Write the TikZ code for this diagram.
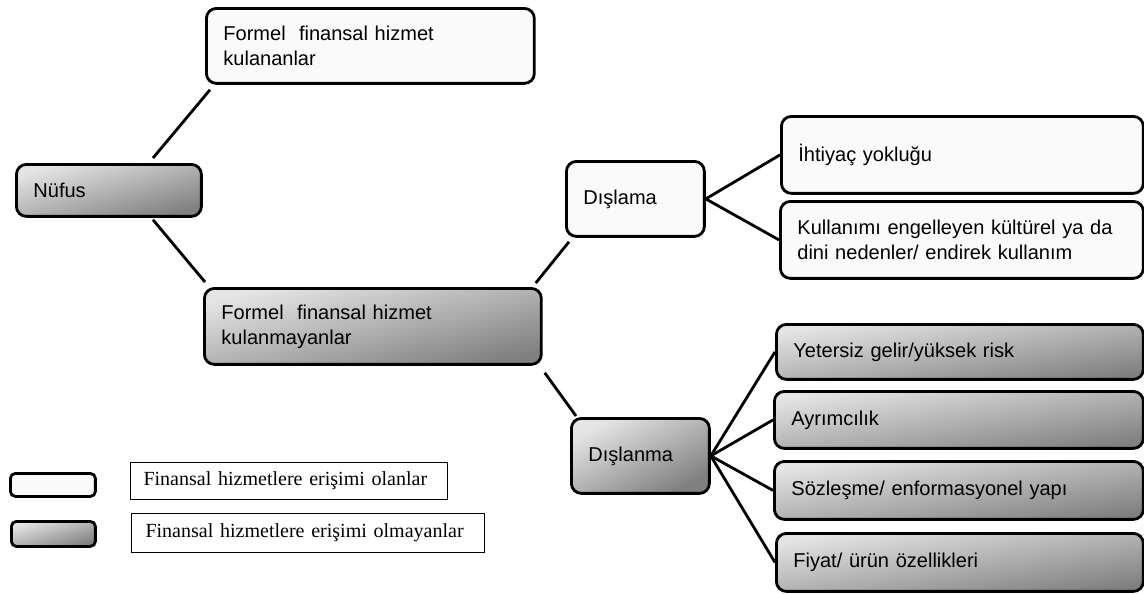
\documentclass[tikz,border=0pt]{standalone}
\usepackage{fontspec}
\setmainfont{Liberation Sans}
\newfontfamily\legendfont{Liberation Serif}

\begin{document}
\begin{tikzpicture}[x=0.02cm, y=-0.02cm, font=\fontsize{11.4}{14.2}\selectfont]
    \tikzstyle{kutu} = [draw, line width=1.6pt, rounded corners=0.2cm, anchor=north west, inner xsep=0.34cm, inner ysep=0pt, align=left]
    \tikzstyle{erisimli} = [kutu, fill=black!2]
    \tikzstyle{erisimsiz} = [kutu, top color=black!10, bottom color=black!50]
    \tikzstyle{ornek} = [kutu, rounded corners=0.1cm, inner sep=0pt]
    \tikzstyle{etiket} = [draw, line width=0.6pt, anchor=north west, inner ysep=0pt, align=left, font=\legendfont\fontsize{11.4}{14.2}\selectfont]
    \tikzstyle{link} = [line width=1.6pt]

    \useasboundingbox (0,0) rectangle (1144,593);

    % Population
    \node [erisimsiz, shading angle=16, minimum width=3.7cm, minimum height=1.04cm, text width=3.02cm] (nufus) at (15,163) {Nüfus};

    % Users / non-users
    \node [erisimli, minimum width=6.56cm, minimum height=1.5cm, text width=5.88cm] (kullanan) at (205,7) {Formel\ \ finansal hizmet\\kulananlar};
    \node [erisimsiz, shading angle=13, minimum width=6.74cm, minimum height=1.52cm, text width=6.06cm] (kullanmayan) at (203,287) {Formel\ \ finansal hizmet\\kulanmayanlar};

    % Exclusion types
    \node [erisimli, minimum width=2.76cm, minimum height=1.5cm, text width=2.08cm] (dislama) at (565,160) {Dışlama};
    \node [erisimsiz, shading angle=28, minimum width=2.76cm, minimum height=1.5cm, text width=2.08cm] (dislanma) at (570,417) {Dışlanma};

    % Reasons
    \node [erisimli, minimum width=7.24cm, minimum height=1.54cm, text width=6.56cm] (ihtiyac) at (780,115) {İhtiyaç yokluğu};
    \node [erisimli, minimum width=7.26cm, minimum height=1.54cm, text width=6.58cm] (kultur) at (779,200) {Kullanımı engelleyen kültürel ya da\\dini nedenler/ endirek kullanım};
    \node [erisimsiz, shading angle=9, minimum width=7.34cm, minimum height=1.1cm, text width=6.66cm] (gelir) at (775,323) {Yetersiz gelir/yüksek risk};
    \node [erisimsiz, shading angle=9, minimum width=7.38cm, minimum height=1.14cm, text width=6.7cm] (ayrim) at (773,390) {Ayrımcılık};
    \node [erisimsiz, shading angle=9, minimum width=7.38cm, minimum height=1.16cm, text width=6.7cm] (sozlesme) at (773,460) {Sözleşme/ enformasyonel yapı};
    \node [erisimsiz, shading angle=9, minimum width=7.34cm, minimum height=1.16cm, text width=6.66cm] (fiyat) at (775,532) {Fiyat/ ürün özellikleri};

    % Legend
    \node [ornek, fill=black!2, minimum width=1.7cm, minimum height=0.46cm] (ornekacik) at (9,472) {};
    \node [ornek, top color=black!10, bottom color=black!50, shading angle=17, minimum width=1.68cm, minimum height=0.5cm] (ornekkoyu) at (10,520) {};
    \node [etiket, inner xsep=0.26cm, minimum width=6.34cm, minimum height=0.74cm, text width=5.82cm] (etiketacik) at (130,462) {Finansal hizmetlere erişimi olanlar};
    \node [etiket, inner xsep=0.28cm, minimum width=7.06cm, minimum height=0.78cm, text width=6.5cm] (etiketkoyu) at (131,513) {Finansal hizmetlere erişimi olmayanlar};

    % Connections
    \draw [link] ([shift={(138,-5)}]nufus.north west) -- ([shift={(5,5)}]kullanan.south west);
    \draw [link] ([shift={(138,2)}]nufus.south west) -- ([shift={(2,-5)}]kullanmayan.north west);
    \draw [link] ([shift={(-7,-4)}]kullanmayan.north east) -- ([shift={(4,4)}]dislama.south west);
    \draw [link] ([shift={(2,7)}]kullanmayan.south east) -- ([shift={(6,-1)}]dislanma.north west);

    \draw [link] (dislama.east) -- (ihtiyac.west);
    \draw [link] (dislama.east) -- (kultur.west);

    \draw [link] (dislanma.east) -- (gelir.west);
    \draw [link] (dislanma.east) -- (ayrim.west);
    \draw [link] (dislanma.east) -- (sozlesme.west);
    \draw [link] (dislanma.east) -- (fiyat.west);
\end{tikzpicture}
\end{document}
